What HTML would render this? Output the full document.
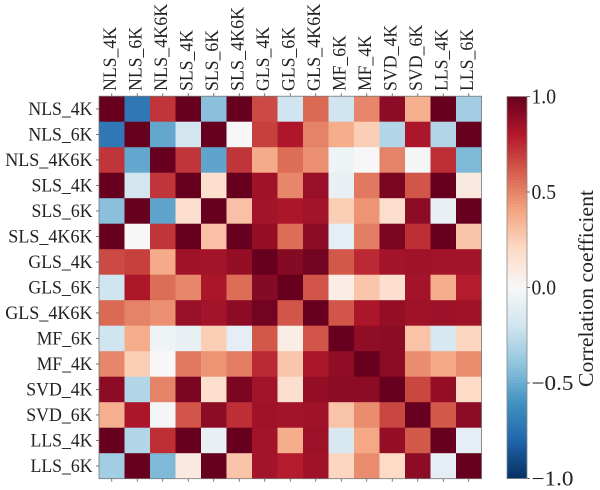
<!DOCTYPE html>
<html>
<head>
<meta charset="utf-8">
<style>
html,body{margin:0;padding:0;background:#fff;}
svg{display:block;}
text{font-family:"Liberation Serif",serif;fill:#222;}
</style>
</head>
<body>
<svg id="chart" xmlns="http://www.w3.org/2000/svg" width="600" height="490" viewBox="0 0 600 490"></svg>
<script>
const categories = ["NLS_4K","NLS_6K","NLS_4K6K","SLS_4K","SLS_6K","SLS_4K6K","GLS_4K","GLS_6K","GLS_4K6K","MF_6K","MF_4K","SVD_4K","SVD_6K","LLS_4K","LLS_6K"];
const row0 = [1,-.72,.72,1,-.42,1,.66,-.2,.57,-.2,.49,.9,.36,1,-.35];
const row1 = [-.72,1,-.52,-.19,1,0,.69,.81,.5,.37,.25,-.3,.82,-.3,1];
const row2 = [.72,-.52,1,.72,-.53,.72,.38,.56,.46,-.05,0,.5,-.02,.74,-.45];
const row3 = [1,-.19,.72,1,.17,1,.85,.49,.87,-.08,.53,.95,.63,1,.1];
const row4 = [-.42,1,-.53,.17,1,.3,.84,.82,.84,.25,.45,.18,.9,-.08,1];
const row5 = [1,0,.72,1,.3,1,.88,.56,.9,-.1,.52,.95,.74,1,.29];
const row6 = [.66,.69,.38,.85,.84,.88,1,.92,.97,.62,.75,.84,.85,.84,.84];
const row7 = [-.2,.81,.56,.49,.82,.56,.92,1,.63,.07,.28,.17,.84,.37,.79];
const row8 = [.57,.5,.46,.87,.84,.9,.97,.63,1,.63,.82,.88,.85,.86,.85];
const row9 = [-.2,.37,-.05,-.08,.25,-.1,.62,.07,.63,1,.89,.9,.29,-.17,.22];
const row10 = [.49,.25,0,.53,.45,.52,.75,.28,.82,.89,1,.9,.47,.39,.47];
const row11 = [.9,-.3,.5,.95,.18,.95,.84,.17,.88,.9,.9,1,.67,.88,.2];
const row12 = [.36,.82,-.02,.63,.9,.74,.85,.84,.85,.29,.47,.67,1,.62,.9];
const row13 = [1,-.3,.74,1,-.08,1,.84,.37,.86,-.17,.39,.88,.62,1,-.1];
const row14 = [-.35,1,-.45,.1,1,.29,.84,.79,.85,.22,.47,.2,.9,-.1,1];
const matrixRows = [row0,row1,row2,row3,row4,row5,row6,row7,row8,row9,row10,row11,row12,row13,row14];
const colorbarTicks = [1,0.5,0,-0.5,-1];
const colorbarTickLabels = ["1.0","0.5","0.0","\u22120.5","\u22121.0"];
const colorbarTitle = "Correlation coefficient";
const paletteStops = ["#053061","#2166ac","#4393c3","#92c5de","#d1e5f0","#f7f7f7","#fddbc7","#f4a582","#d6604d","#b2182b","#67001f"];

const NS = "http://www.w3.org/2000/svg";
const svg = document.getElementById("chart");
const plot = {left:99, top:96.2, size:382.5};
const bar = {left:507, width:20, top:96.5, height:382};

function make(tag, attrs, parent){
  const el = document.createElementNS(NS, tag);
  for (const k in attrs) el.setAttribute(k, attrs[k]);
  (parent || svg).appendChild(el);
  return el;
}
function band(){ return plot.size / categories.length; }
function xScale(i){ return plot.left + i * band(); }
function yScale(i){ return plot.top + i * band(); }
function barY(v){ return bar.top + (1 - v) / 2 * bar.height; }
function hex(c){ return [1,3,5].map(p => parseInt(c.substr(p,2),16)); }
function colorScale(v){
  const t = (Math.max(-1, Math.min(1, v)) + 1) / 2 * (paletteStops.length - 1);
  const i = Math.min(Math.floor(t), paletteStops.length - 2);
  const a = hex(paletteStops[i]), b = hex(paletteStops[i+1]), f = t - i;
  return "rgb(" + a.map((x,k) => Math.round(x + (b[k]-x)*f)).join(",") + ")";
}
function fitLabel(el){
  const w = el.getComputedTextLength();
  el.setAttribute("textLength", (w - 4.5).toFixed(1));
  el.setAttribute("lengthAdjust", "spacingAndGlyphs");
}

// heatmap cells
matrixRows.forEach((row, r) => {
  row.forEach((v, c) => {
    const cell = make("rect", {x:xScale(c), y:yScale(r), width:band()+0.3, height:band()+0.3, fill:colorScale(v)});
    
    
  });
});

// axes frame
const frame = make("rect", {x:plot.left, y:plot.top, width:plot.size, height:plot.size, fill:"none", stroke:"#777", "stroke-width":0.8});



// ticks and category labels
categories.forEach((name, i) => {
  const cx = xScale(i) + band()/2;
  const cy = yScale(i) + band()/2;
  const tickSpecs = [
    [cx, plot.top, cx, plot.top-3],
    [cx, plot.top+plot.size, cx, plot.top+plot.size+3],
    [plot.left, cy, plot.left-3, cy]
  ];
  tickSpecs.forEach(s => {
    const t = make("line", {x1:s[0], y1:s[1], x2:s[2], y2:s[3], stroke:"#555", "stroke-width":0.8});
    
    
  });
  const yl = make("text", {x:92.5, y:cy+6, "text-anchor":"end", "font-size":19});
  yl.textContent = name;
  fitLabel(yl);
  
  
  const tx = cx + 4;
  const xl = make("text", {x:tx, y:91, "text-anchor":"start", "font-size":19, transform:"rotate(-90 "+tx+" 91)"});
  xl.textContent = name;
  fitLabel(xl);
  
  
});

// colorbar gradient
const steps = 128;
for (let s = 0; s < steps; s++){
  const v0 = 1 - 2 * s / steps;
  const v1 = 1 - 2 * (s + 1) / steps;
  const seg = make("rect", {x:bar.left, y:barY(v0), width:bar.width, height:barY(v1)-barY(v0)+0.4, fill:colorScale((v0+v1)/2)});
  
  
}
const barFrame = make("rect", {x:bar.left, y:bar.top, width:bar.width, height:bar.height, fill:"none", stroke:"#888", "stroke-width":0.8});



// colorbar ticks
colorbarTicks.forEach((v, i) => {
  const y = barY(v);
  const t = make("line", {x1:bar.left+bar.width, y1:y, x2:bar.left+bar.width+3, y2:y, stroke:"#555", "stroke-width":0.8});
  
  
  const text = colorbarTickLabels[i];
  const lab = make("text", {x:531.5, y:y+7, "font-size":21, textLength: text.charAt(0) === "\u2212" ? 42 : 24.5, lengthAdjust:"spacingAndGlyphs"});
  lab.textContent = text;
  
  
});

// colorbar title
const title = make("text", {x:0, y:0, "font-size":21, "text-anchor":"middle", textLength:197, lengthAdjust:"spacingAndGlyphs", transform:"translate(593 288.5) rotate(-90)"});
title.textContent = colorbarTitle;


</script>
</body>
</html>
